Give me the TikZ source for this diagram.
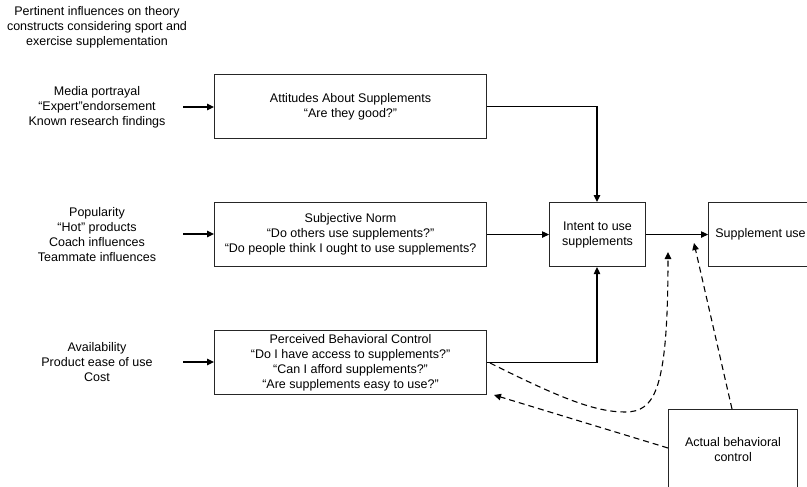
\documentclass[tikz,border=0pt]{standalone}
\usepackage{fontspec}
\setmainfont{Liberation Sans}
\usetikzlibrary{arrows.meta}
\begin{document}
\begin{tikzpicture}[x=1pt,y=-1pt,
  box/.style={draw=black!85,line width=1.1pt,align=center,inner sep=0pt,anchor=north west},
  txt/.style={align=center,inner sep=0pt},
  conn/.style={line width=1.1pt,-{Triangle[length=7pt,width=6.5pt]}},
  dconn/.style={line width=1.1pt,dash pattern=on 6pt off 4pt,-{Triangle[length=7pt,width=6.5pt]}},
  font=\fontsize{12.5pt}{15pt}\selectfont]
\clip (0,0) rectangle (807,487);
\fill[white] (0,0) rectangle (807,487);
% title
\node[txt] (title) at (97,27) {Pertinent influences on theory\\constructs considering sport and\\exercise supplementation};
% left influences
\node[txt] (inf1) at (97,107) {Media portrayal\\“Expert”endorsement\\Known research findings};
\node[txt] (inf2) at (97,234.5) {Popularity\\“Hot” products\\Coach influences\\Teammate influences};
\node[txt] (inf3) at (97,362) {Availability\\Product ease of use\\Cost};
% boxes
\node[box,minimum width=272pt,minimum height=64pt] (att) at (214,74) {Attitudes About Supplements\\“Are they good?"};
\node[box,minimum width=272pt,minimum height=64pt] (sn) at (214,202) {Subjective Norm\\“Do others use supplements?"\\“Do people think I ought to use supplements?};
\node[box,minimum width=272pt,minimum height=64pt] (pbc) at (214,330) {Perceived Behavioral Control\\“Do I have access to supplements?"\\“Can I afford supplements?"\\“Are supplements easy to use?"};
\node[box,minimum width=96pt,minimum height=64pt] (int) at (549,202) {Intent to use\\supplements};
\node[box,minimum width=104pt,minimum height=64pt] (use) at (708,202) {Supplement use};
\node[box,minimum width=129pt,minimum height=80pt] (abc) at (668,409) {Actual behavioral\\control};
% input arrows
\coordinate (a1) at (183,107);
\coordinate (a2) at (183,234);
\coordinate (a3) at (183,362);
\draw[conn] (a1) -- (a1 -| att.west);
\draw[conn] (a2) -- (a2 -| sn.west);
\draw[conn] (a3) -- (a3 -| pbc.west);
% main connectors
\coordinate (jx) at (597,0);
\draw[conn] (att.east) -- (att.east -| jx) -- (jx |- int.north);
\draw[conn] (sn.east) -- (int.west);
\draw[conn] (pbc.east) -- (pbc.east -| jx) -- (jx |- int.south);
\draw[conn] (int.east) -- (int.east -| use.west);
% dashed
\coordinate (d1s) at (490,363);
\coordinate (d1m) at (625,412);
\coordinate (d1e) at (668,252);
\draw[dconn] (d1s) .. controls (560,398) and (595,412) .. (d1m) .. controls (655,412) and (668,390) .. (d1e);
\coordinate (d2s) at (732,409);
\coordinate (d2e) at (694,243);
\draw[dconn] (d2s) -- (d2e);
\coordinate (d3e) at (494,395);
\draw[dconn] (abc.west |- 0,448) -- (d3e);
\end{tikzpicture}
\end{document}
